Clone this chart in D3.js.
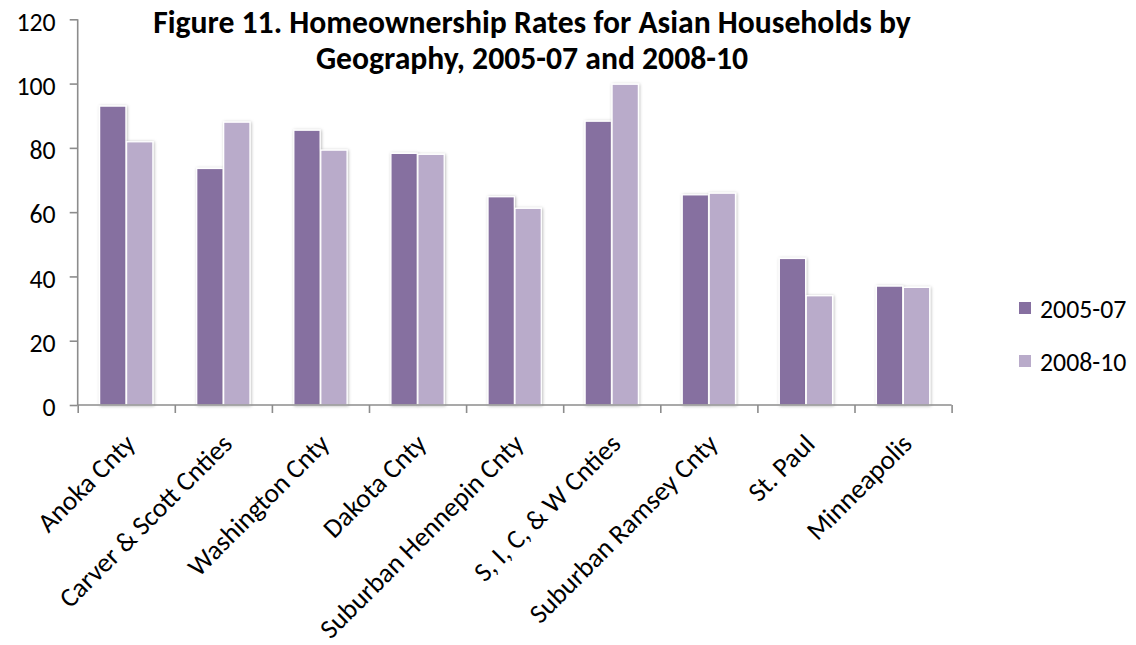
<!DOCTYPE html>
<html>
<head>
<meta charset="utf-8">
<script src="https://cdn.jsdelivr.net/npm/d3@7"></script>
<style>
  html, body { margin: 0; padding: 0; background: #fff; }
  svg { display: block; }
  text { font-family: Carlito, Calibri, Lato, "Open Sans", sans-serif; fill: #000; }
</style>
</head>
<body>
<svg id="chart" width="1136" height="645"></svg>
<script>
const categories = ["Anoka Cnty", "Carver & Scott Cnties", "Washington Cnty", "Dakota Cnty",
  "Suburban Hennepin Cnty", "S, I, C, & W Cnties", "Suburban Ramsey Cnty", "St. Paul", "Minneapolis"];
const seriesNames = ["2005-07", "2008-10"];
const values2005_07 = [93.0, 73.6, 85.5, 78.3, 64.8, 88.3, 65.4, 45.6, 37.0];
const values2008_10 = [81.9, 88.0, 79.3, 78.0, 61.2, 99.8, 65.9, 34.0, 36.6];
const yTicks = [0, 20, 40, 60, 80, 100, 120];
const titleLines = ["Figure 11. Homeownership Rates for Asian Households by",
                    "Geography, 2005-07 and 2008-10"];
const colors = ["#866fa0", "#b9abca"];

const svg = d3.select("#chart");
const mLeft = 77.7, mRight = 951.6, mTop = 19.3, mBottom = 405;

const defs = svg.append("defs");
const f = defs.append("filter").attr("id", "shadow").attr("x", "-30%").attr("y", "-10%").attr("width", "160%").attr("height", "120%");
f.append("feDropShadow").attr("dx", 0.8).attr("dy", 0.5).attr("stdDeviation", 1.4)
  .attr("flood-color", "#000").attr("flood-opacity", 0.28);

const x = d3.scaleBand().domain(categories).range([mLeft, mRight]).padding(0);
const xEdges = d3.scaleLinear().domain([0, categories.length]).range([mLeft, mRight]);
const inner = d3.scaleBand().domain(seriesNames).range([21.6, 75.5]).padding(0);
const y = d3.scaleLinear().domain([0, 120]).range([mBottom, mTop]);

const data = categories.map((c, i) => ({ cat: c, vals: [values2005_07[i], values2008_10[i]] }));

function fitSize(str, weight, target, base) {
  const t = svg.append("text").attr("font-size", base).attr("font-weight", weight).text(str);
  const w = t.node().getComputedTextLength();
  t.remove();
  return base * target / w;
}

// bars
const groups = svg.append("g").selectAll("g").data(data).join("g")
  .attr("transform", d => `translate(${x(d.cat)},0)`);
groups.selectAll("rect").data(d => d.vals.map((v, k) => ({ k, v }))).join("rect")
  .attr("x", d => inner(seriesNames[d.k]) + 0.3)
  .attr("width", inner.bandwidth() - 0.6)
  .attr("y", d => y(d.v))
  .attr("height", d => mBottom - y(d.v))
  .attr("fill", d => colors[d.k])
  .attr("stroke", "#fff").attr("stroke-width", 1.3)
  .attr("filter", "url(#shadow)");

// axes
const axisColor = "#8c8c8c";
const yAxis = svg.append("g").attr("transform", `translate(${mLeft},0)`)
  .call(d3.axisLeft(y).tickValues(yTicks).tickSize(8).tickPadding(14).tickFormat(d3.format("d")));
const xAxis = svg.append("g").attr("transform", `translate(0,${mBottom})`)
  .call(d3.axisBottom(xEdges).tickValues(d3.range(categories.length + 1)).tickSize(8).tickFormat(""));
[yAxis, xAxis].forEach(a => {
  a.select(".domain").attr("stroke", axisColor).attr("stroke-width", 1.6);
  a.selectAll(".tick line").attr("stroke", axisColor).attr("stroke-width", 1.6);
});
yAxis.select(".domain").attr("d", `M0,${mTop}V${mBottom}`);
xAxis.select(".domain").attr("d", `M${mLeft},0H${mRight}`);

const labelSize = fitSize("Suburban Hennepin Cnty", "normal", 262, 20);
yAxis.selectAll(".tick text").attr("font-size", labelSize).attr("fill", "#000")
  .attr("font-family", "Carlito, Calibri, Lato, 'Open Sans', sans-serif").attr("dy", "0.42em");

// x labels, rotated
svg.append("g").selectAll("text").data(categories).join("text")
  .attr("text-anchor", "end")
  .attr("font-size", labelSize * 1.05)
  .attr("transform", d => `translate(${x(d) + x.bandwidth() / 2 + 10.5},${445.5}) rotate(-45)`)
  .text(d => d);

// title (one text element, two lines)
const titleSize = fitSize(titleLines[0], "bold", 758, 24);
const title = svg.append("text")
  .attr("text-anchor", "middle").attr("font-weight", "bold").attr("font-size", titleSize);
title.selectAll("tspan").data(titleLines).join("tspan")
  .attr("x", 532).attr("y", (d, i) => 32.8 + i * 36)
  .text(d => d);

// legend
const lg = svg.append("g").selectAll("g").data(seriesNames).join("g")
  .attr("transform", (d, i) => `translate(1019,${302 + i * 53})`);
lg.append("rect").attr("width", 12).attr("height", 12).attr("fill", (d, i) => colors[i]);
lg.append("text").attr("x", 21).attr("y", 15.5).attr("font-size", labelSize).text(d => d);
</script>
</body>
</html>
